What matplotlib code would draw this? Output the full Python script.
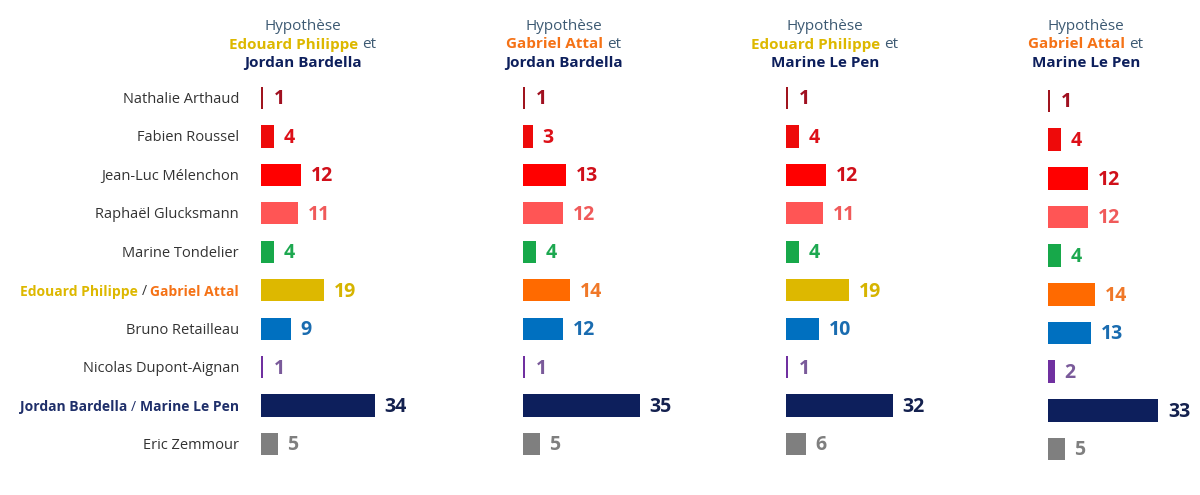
import matplotlib
matplotlib.use("Agg")
import matplotlib.pyplot as plt

# ---------------- data ----------------
candidates = ["Nathalie Arthaud", "Fabien Roussel", "Jean-Luc Mélenchon",
              "Raphaël Glucksmann", "Marine Tondelier",
              "Edouard Philippe / Gabriel Attal", "Bruno Retailleau",
              "Nicolas Dupont-Aignan", "Jordan Bardella / Marine Le Pen",
              "Eric Zemmour"]
hyp1 = [1, 4, 12, 11, 4, 19, 9, 1, 34, 5]    # Philippe + Bardella
hyp2 = [1, 3, 13, 12, 4, 14, 12, 1, 35, 5]   # Attal + Bardella
hyp3 = [1, 4, 12, 11, 4, 19, 10, 1, 32, 6]   # Philippe + Le Pen
hyp4 = [1, 4, 12, 12, 4, 14, 13, 2, 33, 5]   # Attal + Le Pen
centre_candidate = ["Edouard Philippe", "Gabriel Attal", "Edouard Philippe", "Gabriel Attal"]
rn_candidate = ["Jordan Bardella", "Jordan Bardella", "Marine Le Pen", "Marine Le Pen"]

# ---------------- styles ----------------
YELLOW = "#DDB800"
ORANGE = "#F57216"
NAVY = "#0D1F5C"
GREYBLUE = "#3D5A73"
LABEL = "#333333"
FONT = "Open Sans"

bar_colors_base = ["#A0141E", "#EE0A0A", "#FF0000", "#FF5555", "#17A84A",
                   None, "#0070C0", "#7030A0", NAVY, "#7F7F7F"]
text_colors_base = ["#A01020", "#DD1018", "#D0101A", "#F05A5A", "#1DA850",
                    None, "#1A6CB0", "#7A5A9A", "#14214F", "#7F7F7F"]
centre_bar = {"Edouard Philippe": YELLOW, "Gabriel Attal": "#FF6A00"}
centre_txt = {"Edouard Philippe": "#D6B400", "Gabriel Attal": "#F07828"}

W, H = 1200, 495
fig = plt.figure(figsize=(12, 4.95), dpi=100)
fig.patch.set_facecolor("white")
renderer = fig.canvas.get_renderer()


def px(x, y):
    return x / W, 1 - y / H


def draw_pieces(pieces, x, y, align, size):
    """pieces: list of (text, color, weight, size); draws on one line."""
    texts = []
    for s, c, w, sz in pieces:
        t = fig.text(0, 0, s, color=c, fontweight=w, fontsize=sz,
                     family=FONT, ha="left", va="center")
        texts.append(t)
    widths = [t.get_window_extent(renderer).width for t in texts]
    sp = fig.text(0, 0, "a a", fontsize=size, family=FONT)
    sp2 = fig.text(0, 0, "aa", fontsize=size, family=FONT)
    space = sp.get_window_extent(renderer).width - sp2.get_window_extent(renderer).width
    sp.remove(); sp2.remove()
    total = sum(widths) + space * (len(texts) - 1)
    if align == "right":
        start = x - total
    else:
        start = x - total / 2
    cur = start
    for t, wdt in zip(texts, widths):
        t.set_position(px(cur, y))
        cur += wdt + space


panels = [
    dict(vals=hyp1, x0=261, c0=98, c9=444, tc=303),
    dict(vals=hyp2, x0=523, c0=98, c9=444, tc=564),
    dict(vals=hyp3, x0=786, c0=98, c9=444, tc=825),
    dict(vals=hyp4, x0=1048, c0=101, c9=449, tc=1086),
]
PX_PER_UNIT = 3.34
AX_W = 180
TS = 11

for i, p in enumerate(panels):
    n = len(candidates)
    spacing = (p["c9"] - p["c0"]) / (n - 1)
    top = p["c0"] - spacing / 2
    bottom = p["c9"] + spacing / 2
    l, b = p["x0"] / W, 1 - bottom / H
    ax = fig.add_axes([l, b, AX_W / W, (bottom - top) / H])
    ax.set_xlim(0, AX_W / PX_PER_UNIT)
    ax.set_ylim(n - 0.5, -0.5)
    ax.axis("off")
    cname = centre_candidate[i]
    bcols = [centre_bar[cname] if c is None else c for c in bar_colors_base]
    tcols = [centre_txt[cname] if c is None else c for c in text_colors_base]
    ypos = list(range(n))
    widths = [0.6 if v == 1 else v for v in p["vals"]]
    ax.barh(ypos, widths, height=0.58, color=bcols, left=0)
    for yy, v, tc in zip(ypos, p["vals"], tcols):
        ax.annotate(str(v), xy=(max(v, 0.6), yy), xytext=(7, -1), textcoords="offset points",
                    ha="left", va="center", fontsize=14, fontweight="bold",
                    color=tc, family=FONT)
    # titles
    draw_pieces([("Hypothèse", GREYBLUE, "normal", TS)], p["tc"], 26, "center", TS)
    ccol = YELLOW if cname == "Edouard Philippe" else ORANGE
    draw_pieces([(cname, ccol, "bold", TS), ("et", GREYBLUE, "normal", TS)],
                p["tc"], 44.5, "center", TS)
    draw_pieces([(rn_candidate[i], NAVY, "bold", TS)], p["tc"], 63, "center", TS)

# row labels
spacing = (444 - 98) / (len(candidates) - 1)
for k, name in enumerate(candidates):
    y = 99.5 + k * spacing
    if name.startswith("Edouard"):
        pieces = [("Edouard Philippe", YELLOW, "bold", 10), ("/", LABEL, "normal", 10),
                  ("Gabriel Attal", ORANGE, "bold", 10)]
    elif name.startswith("Jordan"):
        pieces = [("Jordan Bardella", "#1F2F6A", "bold", 10), ("/", "#1F2F6A", "normal", 10),
                  ("Marine Le Pen", "#1F2F6A", "bold", 10)]
    else:
        pieces = [(name, LABEL, "normal", 10.5)]
    draw_pieces(pieces, 239, y, "right", 10)

fig.savefig("out.png", dpi=100, facecolor="white")
